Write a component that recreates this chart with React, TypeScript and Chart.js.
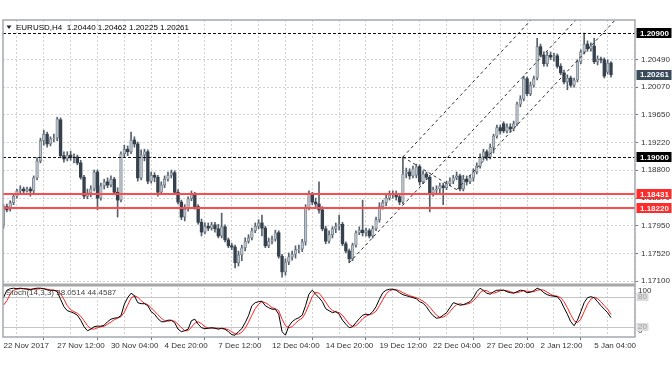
import React, { useEffect, useRef } from "react";
import { Chart, registerables } from "chart.js";
Chart.register(...registerables);

const openP = [
  1.1796, 1.1824, 1.182, 1.183, 1.184, 1.1848, 1.1851, 1.1848, 1.1851, 1.1848,
  1.1868, 1.1894, 1.1925, 1.1935, 1.192, 1.1928, 1.1929, 1.1957, 1.1902, 1.1897,
  1.1903, 1.1899, 1.19, 1.1891, 1.1869, 1.184, 1.1845, 1.1851, 1.1877, 1.1837,
  1.1856, 1.1862, 1.1857, 1.1866, 1.1846, 1.1834, 1.1905, 1.1912, 1.1908, 1.1926,
  1.192, 1.1868, 1.1903, 1.1908, 1.1863, 1.1872, 1.1869, 1.1846, 1.1857, 1.1866,
  1.1872, 1.1876, 1.1846, 1.1831, 1.1808, 1.182, 1.1836, 1.1843, 1.1824, 1.18,
  1.1785, 1.1794, 1.1791, 1.1796, 1.179, 1.1779, 1.1793, 1.1773, 1.1764, 1.1762,
  1.1738, 1.175, 1.1761, 1.1771, 1.1776, 1.1787, 1.1794, 1.1799, 1.1791, 1.1764,
  1.1771, 1.1774, 1.1784, 1.1748, 1.1724, 1.1739, 1.1747, 1.1751, 1.1758, 1.1759,
  1.177, 1.1822, 1.1843, 1.1831, 1.1828, 1.1819, 1.179, 1.1771, 1.1781, 1.179,
  1.1794, 1.1797, 1.1767, 1.1756, 1.1744, 1.1765, 1.1784, 1.1788, 1.1784, 1.1787,
  1.1779, 1.179, 1.1804, 1.1824, 1.183, 1.1837, 1.1842, 1.1843, 1.1839, 1.1831,
  1.1874, 1.1877, 1.1871, 1.1872, 1.1885, 1.1862, 1.1874, 1.1869, 1.1845, 1.185,
  1.1851, 1.1856, 1.1853, 1.1859, 1.1863, 1.1868, 1.1871, 1.1851, 1.1866, 1.1862,
  1.1868, 1.1877, 1.1886, 1.19, 1.1908, 1.19, 1.1915, 1.1932, 1.1945, 1.1951,
  1.194, 1.1946, 1.1943, 1.1951, 1.1981, 1.1989, 1.202, 1.1997, 1.201, 1.2021,
  1.2069, 1.2056, 1.2043, 1.2056, 1.2053, 1.2055, 1.2039, 1.2029, 1.2015, 1.2021,
  1.201, 1.2018, 1.2046, 1.2061, 1.2073, 1.2066, 1.207, 1.2046, 1.205, 1.2049,
  1.203, 1.2044,
];
const highP = [
  1.1827, 1.1828, 1.1833, 1.1843, 1.1851, 1.1856, 1.1854, 1.1854, 1.1854, 1.1871,
  1.1899, 1.1929, 1.1941, 1.1938, 1.1931, 1.1935, 1.1961, 1.196, 1.1908, 1.1908,
  1.1909, 1.1905, 1.1903, 1.1895, 1.1872, 1.1851, 1.1856, 1.188, 1.188, 1.186,
  1.1866, 1.1868, 1.1871, 1.1869, 1.1853, 1.1908, 1.1918, 1.1917, 1.1938, 1.1931,
  1.1923, 1.1911, 1.1912, 1.1911, 1.1877, 1.1876, 1.1872, 1.1862, 1.1871, 1.1877,
  1.188, 1.1879, 1.185, 1.1834, 1.1827, 1.1839, 1.1848, 1.1846, 1.1827, 1.1805,
  1.1799, 1.1799, 1.18, 1.18, 1.1797, 1.1814, 1.1796, 1.1776, 1.1768, 1.1765,
  1.1756, 1.1765, 1.1776, 1.1781, 1.1791, 1.1799, 1.1804, 1.1811, 1.1794, 1.1776,
  1.1779, 1.1788, 1.1787, 1.1751, 1.1744, 1.1753, 1.1756, 1.1764, 1.1765, 1.1774,
  1.1827, 1.1848, 1.1846, 1.1837, 1.1862, 1.1824, 1.1794, 1.1787, 1.1793, 1.1799,
  1.1811, 1.18, 1.177, 1.1759, 1.1768, 1.1787, 1.1793, 1.1834, 1.1791, 1.179,
  1.1794, 1.1808, 1.183, 1.1834, 1.1843, 1.1848, 1.1848, 1.1848, 1.1843, 1.19,
  1.1883, 1.1882, 1.1886, 1.1889, 1.1888, 1.1879, 1.1877, 1.1872, 1.1854, 1.1856,
  1.186, 1.186, 1.1863, 1.1868, 1.1872, 1.1877, 1.1874, 1.1872, 1.1871, 1.1872,
  1.1882, 1.1891, 1.1905, 1.1912, 1.1911, 1.192, 1.1935, 1.1949, 1.1949, 1.1954,
  1.1951, 1.1951, 1.1955, 1.1984, 1.1994, 1.2024, 1.2023, 1.2015, 1.2024, 1.2082,
  1.2073, 1.2061, 1.2061, 1.2061, 1.2059, 1.2058, 1.2043, 1.2033, 1.2026, 1.2024,
  1.2021, 1.2049, 1.2064, 1.209, 1.2078, 1.2075, 1.2082, 1.2055, 1.2053, 1.2052,
  1.2049, 1.20462,
];
const lowP = [
  1.1791, 1.1816, 1.1817, 1.1827, 1.1837, 1.1843, 1.1845, 1.1846, 1.184, 1.1845,
  1.1865, 1.1891, 1.1918, 1.1915, 1.1917, 1.1923, 1.1925, 1.1899, 1.1892, 1.1894,
  1.1895, 1.1891, 1.1888, 1.1866, 1.1836, 1.1836, 1.1839, 1.1848, 1.1819, 1.1834,
  1.1851, 1.1853, 1.1854, 1.1842, 1.1808, 1.1831, 1.1899, 1.1902, 1.1905, 1.1915,
  1.1863, 1.1865, 1.1894, 1.1859, 1.186, 1.1862, 1.184, 1.1843, 1.1853, 1.1863,
  1.1868, 1.1843, 1.1828, 1.1804, 1.1802, 1.1817, 1.1833, 1.182, 1.1797, 1.1779,
  1.1782, 1.1787, 1.1788, 1.1785, 1.1776, 1.1776, 1.177, 1.1761, 1.1758, 1.173,
  1.1733, 1.1741, 1.1756, 1.1768, 1.1773, 1.1784, 1.179, 1.1779, 1.1761, 1.1761,
  1.1767, 1.1771, 1.1745, 1.1716, 1.1719, 1.1735, 1.1742, 1.1745, 1.1753, 1.1755,
  1.1765, 1.1819, 1.1827, 1.1822, 1.1814, 1.1787, 1.1767, 1.1768, 1.1776, 1.1784,
  1.1788, 1.1764, 1.1753, 1.1738, 1.1741, 1.1762, 1.1781, 1.1779, 1.1779, 1.1776,
  1.1776, 1.1787, 1.18, 1.182, 1.1825, 1.1834, 1.1837, 1.1834, 1.1827, 1.1828,
  1.1868, 1.1866, 1.1868, 1.1868, 1.1857, 1.1859, 1.1865, 1.1816, 1.184, 1.1843,
  1.1845, 1.1827, 1.185, 1.1856, 1.1859, 1.1865, 1.1848, 1.1848, 1.1857, 1.1859,
  1.1863, 1.1874, 1.1883, 1.1895, 1.1895, 1.1897, 1.1906, 1.1929, 1.1935, 1.1937,
  1.1937, 1.1938, 1.194, 1.1948, 1.1977, 1.1986, 1.1994, 1.1994, 1.2007, 1.2018,
  1.2053, 1.2039, 1.2039, 1.2049, 1.2047, 1.2036, 1.2026, 1.2012, 1.2003, 1.2007,
  1.2007, 1.2015, 1.2043, 1.2058, 1.2062, 1.2062, 1.2043, 1.2041, 1.2044, 1.2021,
  1.2027, 1.20225,
];
const closeP = [
  1.1824, 1.1819, 1.183, 1.184, 1.1848, 1.1851, 1.1848, 1.1851, 1.1848, 1.1868,
  1.1894, 1.1925, 1.1935, 1.192, 1.1928, 1.1929, 1.1958, 1.1902, 1.1897, 1.1903,
  1.1899, 1.19, 1.1891, 1.1869, 1.184, 1.1845, 1.1851, 1.1877, 1.1837, 1.1856,
  1.1862, 1.1857, 1.1866, 1.1846, 1.1834, 1.1905, 1.1912, 1.1908, 1.1926, 1.192,
  1.1868, 1.1903, 1.1908, 1.1863, 1.1872, 1.1869, 1.1846, 1.1857, 1.1866, 1.1872,
  1.1876, 1.1846, 1.1831, 1.1808, 1.182, 1.1836, 1.1843, 1.1824, 1.18, 1.1785,
  1.1794, 1.1791, 1.1796, 1.179, 1.1779, 1.1793, 1.1773, 1.1764, 1.1762, 1.1738,
  1.175, 1.1761, 1.1771, 1.1776, 1.1787, 1.1794, 1.1799, 1.1791, 1.1764, 1.1771,
  1.1774, 1.1784, 1.1748, 1.1724, 1.1739, 1.1747, 1.1751, 1.1758, 1.1759, 1.177,
  1.1822, 1.1843, 1.1831, 1.1828, 1.1819, 1.179, 1.1771, 1.1781, 1.179, 1.1794,
  1.1797, 1.1767, 1.1756, 1.1744, 1.1765, 1.1784, 1.1788, 1.1784, 1.1787, 1.1779,
  1.179, 1.1804, 1.1824, 1.183, 1.1837, 1.1842, 1.1843, 1.1839, 1.1831, 1.1874,
  1.1877, 1.1871, 1.1882, 1.1885, 1.1862, 1.1874, 1.1869, 1.1845, 1.185, 1.1851,
  1.1856, 1.1853, 1.1859, 1.1863, 1.1868, 1.1871, 1.1851, 1.1866, 1.1862, 1.1868,
  1.1877, 1.1886, 1.19, 1.1908, 1.19, 1.1915, 1.1932, 1.1945, 1.194, 1.194,
  1.1946, 1.1943, 1.1951, 1.1981, 1.1989, 1.202, 1.1997, 1.201, 1.202, 1.2069,
  1.2056, 1.2043, 1.2056, 1.2053, 1.2055, 1.2039, 1.2029, 1.2015, 1.2021, 1.201,
  1.2018, 1.2046, 1.2061, 1.2073, 1.2066, 1.207, 1.2046, 1.205, 1.2049, 1.2024,
  1.2044, 1.20261,
];

const stochK = [
  78, 93, 96, 97, 96, 97, 96, 95, 94, 96,
  97, 97, 96, 94, 92, 93, 90, 75, 60, 52,
  50, 47, 43, 33, 20, 12, 15, 20, 21, 21,
  23, 30, 35, 37, 38, 42, 65, 78, 87, 82,
  68, 66, 66, 62, 50, 45, 36, 30, 30, 33,
  33, 28, 15, 10, 12, 15, 32, 35, 25, 18,
  16, 17, 18, 17, 15, 17, 15, 10, 4, 3,
  10, 16, 28, 42, 62, 68, 70, 71, 62, 58,
  55, 55, 45, 10, 3, 21, 30, 35, 38, 43,
  62, 85, 93, 85, 78, 70, 56, 52, 48, 50,
  45, 33, 25, 18, 20, 28, 36, 43, 45, 44,
  50, 60, 75, 88, 93, 95, 95, 93, 88, 84,
  82, 80, 78, 76, 70, 67, 60, 50, 42, 37,
  38, 43, 48, 58, 68, 66, 63, 64, 67, 70,
  78, 90, 97, 92, 87, 85, 90, 93, 93, 93,
  90, 88, 87, 90, 93, 92, 88, 89, 92, 97,
  94, 88, 84, 82, 81, 80, 72, 58, 45, 30,
  22, 33, 50, 68, 78, 80, 78, 70, 62, 55,
  48, 38.0514,
];
const stochD = [
  63, 72, 85, 93, 95, 96, 96, 96, 95, 95,
  95, 96, 96, 95, 94, 93, 92, 86, 75, 62,
  54, 50, 47, 41, 32, 22, 16, 15, 18, 20,
  21, 25, 29, 34, 37, 40, 49, 63, 77, 82,
  79, 72, 67, 64, 58, 51, 44, 37, 32, 31,
  32, 31, 25, 18, 12, 12, 19, 27, 30, 26,
  20, 17, 17, 17, 17, 16, 16, 14, 10, 6,
  5, 9, 17, 29, 43, 56, 65, 70, 68, 64,
  58, 56, 52, 35, 22, 18, 20, 27, 33, 37,
  48, 64, 80, 89, 87, 79, 69, 59, 52, 50,
  48, 43, 34, 25, 21, 22, 28, 36, 41, 44,
  46, 51, 62, 74, 85, 92, 94, 94, 92, 88,
  85, 82, 80, 78, 75, 71, 66, 59, 51, 43,
  39, 39, 43, 50, 58, 64, 66, 64, 65, 67,
  72, 79, 88, 93, 92, 88, 87, 89, 92, 93,
  92, 90, 88, 88, 90, 92, 91, 90, 90, 93,
  94, 93, 89, 85, 82, 81, 78, 70, 58, 44,
  32, 28, 35, 50, 65, 75, 79, 76, 70, 62,
  55, 44.4587,
];

const xTickLabels = [
  "22 Nov 2017", "27 Nov 12:00", "30 Nov 04:00", "4 Dec 20:00", "7 Dec 12:00", "12 Dec 04:00",
  "14 Dec 20:00", "19 Dec 12:00", "22 Dec 04:00", "27 Dec 20:00", "2 Jan 12:00", "5 Jan 04:00",
];
const priceTicks = [1.2049, 1.2007, 1.1965, 1.1922, 1.188, 1.1837, 1.1795, 1.1752, 1.171];
const dottedLevels = [1.209, 1.19];
const redLevels = [1.18431, 1.1822];
const blackLabels = [1.209, 1.19];
const lastPrice = 1.20261;
const stochLevels = [80, 20];

// channel / trend lines (bar index, price)
const trendUpper = [{ x: 119, y: 1.19 }, { x: 165, y: 1.2153 }];
const trendLower = [{ x: 103, y: 1.1738 }, { x: 180, y: 1.2162 }];
const trendRight = [{ x: 135, y: 1.185 }, { x: 189, y: 1.2147 }];
const trendLink = [{ x: 119, y: 1.19 }, { x: 135, y: 1.185 }];

const titleText = "EURUSD,H4  1.20440 1.20462 1.20225 1.20261";
const stochText = "Stoch(14,3,3) 38.0514 44.4587";

const FONT = '"Liberation Sans", Arial, sans-serif';

const overlayPlugin = {
  id: "overlay",
  beforeDatasetsDraw(chart: any) {
    const { ctx, chartArea: a, scales } = chart;
    const s2 = scales.y2;
    ctx.save();
    ctx.strokeStyle = "#c4c4c4";
    ctx.lineWidth = 1;
    stochLevels.forEach((lv) => {
      const py = Math.round(s2.getPixelForValue(lv)) + 0.5;
      ctx.beginPath();
      ctx.moveTo(a.left, py);
      ctx.lineTo(a.right, py);
      ctx.stroke();
    });
    ctx.restore();
  },
  afterDatasetsDraw(chart: any) {
    const { ctx, chartArea: a, scales } = chart;
    const sy = scales.y;
    const s2 = scales.y2;
    ctx.save();
    ctx.setLineDash([3, 2]);
    ctx.strokeStyle = "#111";
    ctx.lineWidth = 1;
    dottedLevels.forEach((v) => {
      const py = Math.round(sy.getPixelForValue(v)) + 0.5;
      ctx.beginPath();
      ctx.moveTo(a.left, py);
      ctx.lineTo(a.right, py);
      ctx.stroke();
    });
    ctx.setLineDash([]);
    ctx.strokeStyle = "#ff4b4b";
    ctx.lineWidth = 2;
    redLevels.forEach((v) => {
      const py = Math.round(sy.getPixelForValue(v));
      ctx.beginPath();
      ctx.moveTo(a.left, py);
      ctx.lineTo(a.right, py);
      ctx.stroke();
    });
    const sep = sy.bottom;
    ctx.fillStyle = "#a8a8a8";
    ctx.fillRect(a.left, sep - 1.5, a.right - a.left, 3);
    ctx.strokeStyle = "#a4a9ae";
    ctx.lineWidth = 1.5;
    ctx.strokeRect(a.left, a.top, a.right - a.left, a.bottom - a.top);

    ctx.fillStyle = "#222";
    ctx.beginPath();
    ctx.moveTo(6.5, 25.5);
    ctx.lineTo(11.5, 25.5);
    ctx.lineTo(9, 29);
    ctx.closePath();
    ctx.fill();
    ctx.font = `8px ${FONT}`;
    ctx.textBaseline = "middle";
    ctx.textAlign = "left";
    ctx.fillStyle = "#000";
    ctx.fillText(titleText, 16, 27.5);

    const box = (v: number, bg: string) => {
      const py = sy.getPixelForValue(v);
      ctx.fillStyle = bg;
      ctx.fillRect(a.right + 1.5, Math.round(py) - 5, 35, 10);
      ctx.fillStyle = "#fff";
      ctx.font = `bold 8px ${FONT}`;
      ctx.fillText(v.toFixed(5), a.right + 5, py + 0.5);
    };
    blackLabels.forEach((v) => box(v, "#000"));
    box(lastPrice, "#3b4a5a");
    redLevels.forEach((v) => box(v, "#ff2a2a"));

    ctx.font = `8px ${FONT}`;
    ctx.fillStyle = "#444";
    ctx.fillText(stochText, 6, s2.top + 8);
    ctx.fillStyle = "#333";
    ctx.fillText("100", a.right + 3, s2.top + 6);
    ctx.fillText("0", a.right + 3, s2.bottom - 6);
    stochLevels.forEach((lv) => {
      const py = s2.getPixelForValue(lv);
      ctx.fillStyle = "#dcdcdc";
      ctx.fillRect(a.right + 1.5, Math.round(py) - 4, 12, 8);
      ctx.fillStyle = "#a0a0a0";
      ctx.fillText(String(lv), a.right + 3, py + 0.5);
    });
    ctx.restore();
  },
};

export default function App() {
  const ref = useRef<HTMLCanvasElement>(null);
  useEffect(() => {
    document.body.style.margin = "0";
    const canvas = ref.current as HTMLCanvasElement;
    const idx = closeP.map((_, i) => i);
    const wicks = idx.map((i) => ({ x: i, y: [lowP[i], highP[i]] }));
    const bodies = idx.map((i) => ({ x: i, y: [openP[i], closeP[i]] }));
    const bull = idx.map((i) => closeP[i] >= openP[i]);
    const kData = idx.map((i) => ({ x: i, y: stochK[i] }));
    const dData = idx.map((i) => ({ x: i, y: stochD[i] }));
    const gridIdx: number[] = [];
    for (let v = 0; v <= 184; v += 8) gridIdx.push(v);

    Chart.defaults.font.family = FONT;
    Chart.defaults.font.size = 8;

    const trendDs = (data: any[]) => ({
      type: "line",
      data,
      yAxisID: "y",
      borderColor: "#2a2a2a",
      borderWidth: 1,
      borderDash: [3, 3],
      pointRadius: 0,
      fill: false,
      order: -1,
    });

    const chart = new Chart(canvas, {
      type: "bar",
      data: {
        datasets: [
          {
            type: "bar",
            data: wicks as any,
            yAxisID: "y",
            backgroundColor: "#56616c",
            barThickness: 1,
            grouped: false,
            borderSkipped: false,
            order: 3,
          },
          {
            type: "bar",
            data: bodies as any,
            yAxisID: "y",
            backgroundColor: bull.map((b) => (b ? "#bcc3ca" : "#36414e")),
            borderColor: bull.map((b) => (b ? "#727d88" : "#36414e")),
            borderWidth: bull.map((b) => (b ? 0.8 : 0)),
            barThickness: 2.7,
            grouped: false,
            borderSkipped: false,
            order: 2,
          },
          {
            type: "line",
            data: dData as any,
            yAxisID: "y2",
            borderColor: "#ff2020",
            borderWidth: 1,
            pointRadius: 0,
            order: 1,
          },
          {
            type: "line",
            data: kData as any,
            yAxisID: "y2",
            borderColor: "#000",
            borderWidth: 1,
            pointRadius: 0,
            order: 0,
          },
          trendDs(trendUpper) as any,
          trendDs(trendLower) as any,
          trendDs(trendRight) as any,
          trendDs(trendLink) as any,
        ],
      },
      options: {
        animation: false,
        responsive: false,
        events: [],
        layout: { padding: { left: 3, top: 20, right: 0, bottom: 0 } },
        plugins: { legend: { display: false }, tooltip: { enabled: false } },
        scales: {
          x: {
            type: "linear",
            min: -0.15,
            max: 188.15,
            position: "bottom",
            offset: false,
            afterBuildTicks: (s: any) => {
              s.ticks = gridIdx.map((v) => ({ value: v }));
            },
            afterFit: (s: any) => {
              s.height = 35;
            },
            ticks: {
              autoSkip: false,
              maxRotation: 0,
              align: "start",
              padding: 1,
              color: "#333",
              font: { size: 8 },
              callback: (v: any) => (Number(v) % 16 === 0 ? xTickLabels[Number(v) / 16] : ""),
            },
            grid: {
              color: "#d2d2d2",
              tickLength: 3,
              tickColor: (c: any) => (c.tick && c.tick.value % 16 === 0 ? "#777" : "rgba(0,0,0,0)"),
              tickBorderDash: [],
            },
            border: { display: false, dash: [2, 2] },
          },
          y: {
            type: "linear",
            position: "right",
            stack: "win",
            stackWeight: 265,
            min: 1.17039,
            max: 1.21099,
            afterBuildTicks: (s: any) => {
              s.ticks = priceTicks.map((v) => ({ value: v }));
            },
            afterFit: (s: any) => {
              s.width = 37;
            },
            ticks: {
              padding: 3,
              color: "#333",
              font: { size: 8 },
              callback: (v: any) => Number(v).toFixed(5),
            },
            grid: {
              color: "#d2d2d2",
              tickLength: 3,
              tickColor: "#777",
              tickBorderDash: [],
            },
            border: { display: false, dash: [2, 2] },
          },
          y2: {
            type: "linear",
            position: "right",
            stack: "win",
            stackWeight: 52,
            min: -0.6,
            max: 103.4,
            afterFit: (s: any) => {
              s.width = 37;
            },
            ticks: { display: false },
            grid: { display: false },
            border: { display: false },
          },
        },
      } as any,
      plugins: [overlayPlugin as any],
    });
    return () => chart.destroy();
  }, []);
  return (
    <div style={{ width: 672, height: 372, background: "#fff" }}>
      <canvas ref={ref} width={672} height={372} style={{ display: "block" }} />
    </div>
  );
}
